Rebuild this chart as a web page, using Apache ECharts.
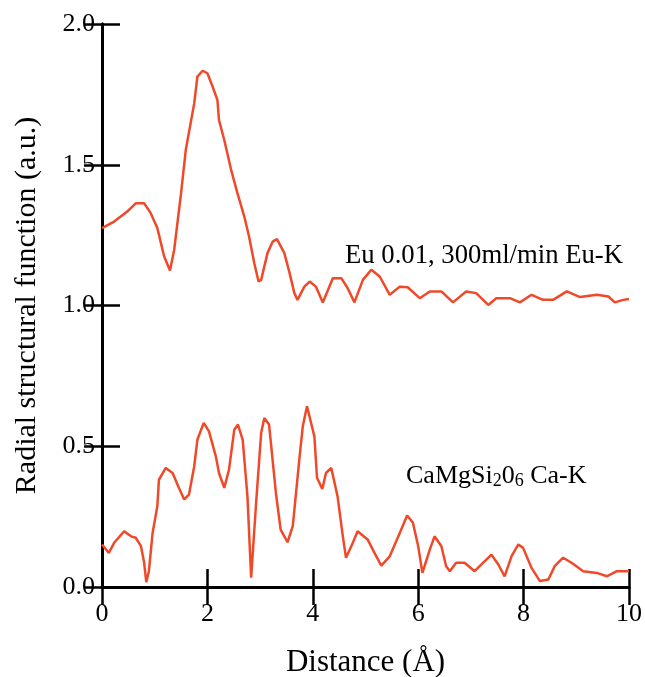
<!DOCTYPE html>
<html><head><meta charset="utf-8">
<script src="https://cdn.jsdelivr.net/npm/echarts@6/dist/echarts.min.js"></script>
<style>html,body{margin:0;padding:0;background:#fff}#c{width:645px;height:677px}</style>
</head><body><div id="c"></div>
<script>
// Eu 0.01, 300ml/min Eu-K
const euX = [0,0.23,0.48,0.64,0.80,0.925,1.05,1.18,1.29,1.37,1.50,1.59,1.75,1.81,1.91,2.0,2.10,2.19,2.22,2.32,2.45,2.57,2.70,2.79,2.89,2.97,3.02,3.14,3.24,3.32,3.46,3.56,3.65,3.71,3.84,3.94,4.06,4.19,4.38,4.54,4.66,4.79,4.95,5.11,5.27,5.46,5.65,5.80,6.03,6.22,6.44,6.66,6.91,7.10,7.33,7.48,7.74,7.93,8.15,8.37,8.56,8.82,9.07,9.39,9.61,9.73,9.89,10.0];
const euY = [1.275,1.298,1.334,1.363,1.363,1.328,1.275,1.174,1.124,1.198,1.399,1.553,1.718,1.813,1.834,1.825,1.777,1.730,1.659,1.588,1.482,1.399,1.316,1.245,1.150,1.085,1.091,1.186,1.227,1.236,1.186,1.115,1.044,1.020,1.067,1.085,1.067,1.011,1.097,1.097,1.062,1.011,1.091,1.127,1.103,1.038,1.067,1.065,1.026,1.050,1.050,1.011,1.050,1.044,1.002,1.026,1.026,1.011,1.038,1.020,1.020,1.050,1.030,1.038,1.032,1.011,1.020,1.023];
// CaMgSi2O6 Ca-K
const caX = [0,0.13,0.23,0.42,0.55,0.64,0.74,0.80,0.84,0.89,0.96,1.05,1.08,1.21,1.34,1.46,1.56,1.65,1.75,1.81,1.93,2.03,2.16,2.22,2.32,2.41,2.51,2.58,2.67,2.76,2.83,2.92,3.02,3.08,3.17,3.30,3.39,3.52,3.62,3.75,3.81,3.89,4.03,4.08,4.18,4.25,4.35,4.47,4.57,4.63,4.76,4.85,5.04,5.17,5.30,5.46,5.65,5.79,5.90,6.00,6.08,6.22,6.31,6.44,6.53,6.60,6.72,6.88,7.07,7.23,7.39,7.52,7.64,7.77,7.90,7.99,8.15,8.31,8.47,8.59,8.75,8.91,9.13,9.39,9.58,9.77,10.0];
const caY = [0.151,0.121,0.157,0.198,0.180,0.175,0.145,0.086,0.017,0.056,0.192,0.287,0.381,0.423,0.405,0.352,0.311,0.328,0.429,0.523,0.583,0.553,0.464,0.405,0.352,0.417,0.559,0.577,0.523,0.322,0.033,0.287,0.547,0.600,0.577,0.334,0.204,0.159,0.216,0.464,0.571,0.642,0.535,0.388,0.348,0.405,0.423,0.322,0.180,0.104,0.157,0.198,0.169,0.121,0.076,0.109,0.192,0.254,0.228,0.145,0.050,0.133,0.180,0.145,0.074,0.056,0.086,0.086,0.056,0.086,0.115,0.080,0.038,0.109,0.151,0.139,0.068,0.021,0.027,0.074,0.104,0.086,0.056,0.050,0.038,0.056,0.056];
const xTicks = [0,2,4,6,8,10];
const yTicks = [0.0,0.5,1.0,1.5,2.0];

const FONT = 'Liberation Serif';
const COLOR = '#f0492a';
const zip = (a,b)=>a.map((v,i)=>[v,b[i]]);
const axisLine = {show:true, lineStyle:{color:'#000', width:3}};
const tick = {show:true, inside:true, length:18, lineStyle:{color:'#000', width:2.5}};
const chart = echarts.init(document.getElementById('c'));
chart.setOption({
  animation:false,
  grid:{left:102, right:16, top:24, bottom:90, containLabel:false, outerBoundsMode:'none'},
  xAxis:[
    {type:'value', min:xTicks[0], max:xTicks[xTicks.length-1], interval:2, position:'bottom', axisLine, axisTick:tick, splitLine:{show:false},
     axisLabel:{color:'#000', fontFamily:FONT, fontSize:26, margin:14},
     name:'Distance (Å)', nameLocation:'middle', nameGap:60, nameTextStyle:{color:'#000', fontFamily:FONT, fontSize:31}},
    {type:'value', min:0, max:10, interval:2, position:'top', axisLine, axisTick:tick, axisLabel:{show:false}, splitLine:{show:false}}
  ],
  yAxis:[
    {type:'value', min:yTicks[0], max:yTicks[yTicks.length-1], interval:0.5, position:'left', axisLine, axisTick:tick, splitLine:{show:false},
     axisLabel:{color:'#000', fontFamily:FONT, fontSize:26, margin:7, formatter:v=>v.toFixed(1)},
     name:'Radial structural function (a.u.)', nameLocation:'middle', nameGap:60, nameTextStyle:{color:'#000', fontFamily:FONT, fontSize:30}},
    {type:'value', min:0, max:2, interval:0.5, position:'right', axisLine, axisTick:tick, axisLabel:{show:false}, splitLine:{show:false}}
  ],
  series:[
    {type:'line', data:zip(euX,euY), showSymbol:false, lineStyle:{color:COLOR, width:2.5}, itemStyle:{color:COLOR}},
    {type:'line', data:zip(caX,caY), showSymbol:false, lineStyle:{color:COLOR, width:2.5}, itemStyle:{color:COLOR}}
  ],
  graphic:[
    {type:'text', left:345, top:242, style:{text:'Eu 0.01, 300ml/min Eu-K', font:'26.7px "Liberation Serif"', fill:'#000'}},
    {type:'text', left:406, top:463, style:{
      text:'CaMgSi{s|2}0{s|6} Ca-K', font:'26px "Liberation Serif"', fill:'#000',
      rich:{s:{fontSize:18, fontFamily:FONT, verticalAlign:'bottom', padding:[10,0,0,0]}}
    }}
  ]
});
</script></body></html>
